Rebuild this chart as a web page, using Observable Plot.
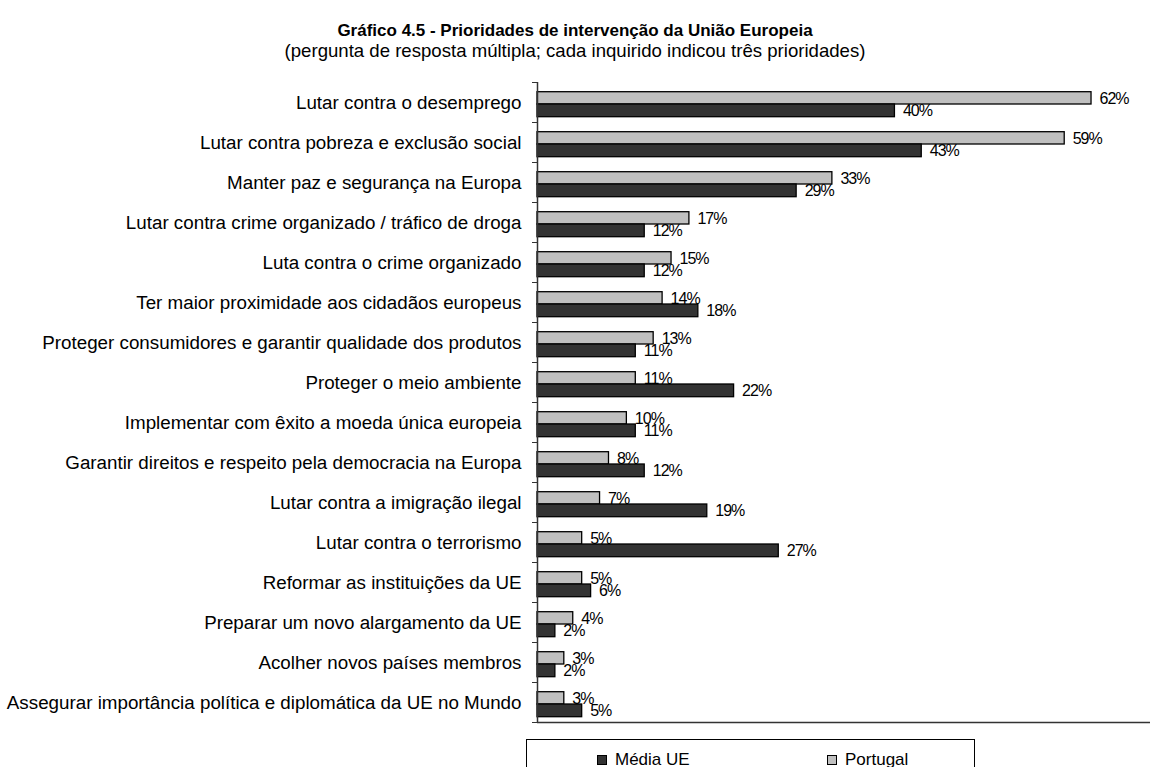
<!DOCTYPE html>
<html>
<head>
<meta charset="utf-8">
<script src="https://cdn.jsdelivr.net/npm/d3@7"></script>
<script src="https://cdn.jsdelivr.net/npm/@observablehq/plot@0.6"></script>
<style>
  html, body { margin: 0; padding: 0; background: #fff; }
  body { width: 1150px; height: 767px; overflow: hidden; font-family: "Liberation Sans", Arial, sans-serif; color: #000; }
  #header { position: relative; height: 61px; }
  #title { position: absolute; left: 0; width: 1150px; top: 20px; text-align: center; font-weight: bold; font-size: 17px; line-height: 21px; }
  #subtitle { position: absolute; left: 0; width: 1150px; top: 40px; text-align: center; font-size: 18.6px; line-height: 21px; }
  #chart svg { display: block; }
  #legend { position: relative; margin-top: 4px; margin-left: 526px; width: 449px; height: 34px; border: 1px solid #000; box-sizing: border-box; font-size: 17px; }
  .item { position: absolute; top: 10px; line-height: 20px; display: flex; align-items: center; }
  .sw { display: inline-block; width: 8px; height: 8px; border: 1px solid #000; margin-right: 8px; }
</style>
</head>
<body>
<div id="header">
  <div id="title">Gráfico 4.5 - Prioridades de intervenção da União Europeia</div>
  <div id="subtitle">(pergunta de resposta múltipla; cada inquirido indicou três prioridades)</div>
</div>
<div id="chart"></div>
<div id="legend"></div>
<script>
const categories = [
  "Lutar contra o desemprego",
  "Lutar contra pobreza e exclusão social",
  "Manter paz e segurança na Europa",
  "Lutar contra crime organizado / tráfico de droga",
  "Luta contra o crime organizado",
  "Ter maior proximidade aos cidadãos europeus",
  "Proteger consumidores e garantir qualidade dos produtos",
  "Proteger o meio ambiente",
  "Implementar com êxito a moeda única europeia",
  "Garantir direitos e respeito pela democracia na Europa",
  "Lutar contra a imigração ilegal",
  "Lutar contra o terrorismo",
  "Reformar as instituições da UE",
  "Preparar um novo alargamento da UE",
  "Acolher novos países membros",
  "Assegurar importância política e diplomática da UE no Mundo"
];
const portugal = [62, 59, 33, 17, 15, 14, 13, 11, 10, 8, 7, 5, 5, 4, 3, 3];
const mediaUE  = [40, 43, 29, 12, 12, 18, 11, 22, 11, 12, 19, 27, 6, 2, 2, 5];
const seriesNames = ["Média UE", "Portugal"];
const seriesColors = ["#333333", "#c0c0c0"];

const ptData = categories.map((c, i) => ({category: c, value: portugal[i]}));
const ueData = categories.map((c, i) => ({category: c, value: mediaUE[i]}));

const font = "'Liberation Sans', Arial, sans-serif";

const chart = Plot.plot({
  width: 1150,
  height: 674,
  marginTop: 21,
  marginBottom: 13,
  marginLeft: 537,
  marginRight: 0,
  style: {fontFamily: font, color: "#000", background: "#fff"},
  x: {domain: [0, 68.6], axis: null},
  y: {domain: categories, padding: 0, axis: null},
  marks: [
    Plot.barX(ptData, {x: "value", y: "category", fill: seriesColors[1], stroke: "#000", strokeWidth: 1.3, insetTop: 9.7, insetBottom: 18}),
    Plot.barX(ueData, {x: "value", y: "category", fill: seriesColors[0], stroke: "#000", strokeWidth: 1.3, insetTop: 22, insetBottom: 5.3}),
    Plot.ruleX([0], {stroke: "#333", strokeWidth: 1.5}),
    Plot.ruleY([categories[categories.length - 1]], {dy: 20, stroke: "#333", strokeWidth: 1.5}),
    Plot.axisY({tickSize: 5, tickFormat: () => "", dy: -20, stroke: "#333", label: null}),
    Plot.axisY({tickSize: 5, tickFormat: () => "", dy: 20, stroke: "#333", label: null}),
    Plot.axisY({tickSize: 0, tickPadding: 16, fontSize: 18.8, fill: "#000", label: null}),
    Plot.text(ptData, {x: "value", y: "category", text: d => d.value + "%", textAnchor: "start", dx: 8, dy: -4, fontSize: 16, fill: "#000"}),
    Plot.text(ueData, {x: "value", y: "category", text: d => d.value + "%", textAnchor: "start", dx: 8, dy: 8.3, fontSize: 16, fill: "#000"})
  ]
});
chart.querySelectorAll("text").forEach(t => { if (/%$/.test(t.textContent)) t.style.letterSpacing = "-1px"; });
document.getElementById("chart").appendChild(chart);

const legend = document.getElementById("legend");
const lefts = [70, 300];
seriesNames.forEach((name, i) => {
  const it = document.createElement("div");
  it.className = "item";
  it.style.left = lefts[i] + "px";
  const sw = document.createElement("span");
  sw.className = "sw";
  sw.style.background = seriesColors[i];
  it.appendChild(sw);
  it.appendChild(document.createTextNode(name));
  legend.appendChild(it);
});
</script>
</body>
</html>
